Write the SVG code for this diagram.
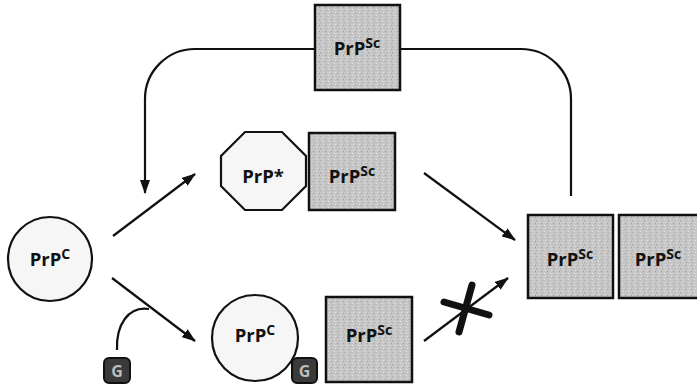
<svg xmlns="http://www.w3.org/2000/svg" width="697" height="386" viewBox="0 0 697 386">
  <defs>
    <marker id="head" viewBox="0 0 14 10" refX="13" refY="5" markerWidth="14" markerHeight="10" markerUnits="userSpaceOnUse" orient="auto">
      <path d="M0,0 L14,5 L0,10 Z" fill="#111"/>
    </marker>
    <pattern id="grain" width="6" height="6" patternUnits="userSpaceOnUse">
      <rect width="6" height="6" fill="#c6c6c6"/>
      <rect x="1" y="1" width="1" height="1" fill="#9a9a9a"/>
      <rect x="4" y="3" width="1" height="1" fill="#e6e6e6"/>
      <rect x="2" y="4" width="1" height="1" fill="#a8a8a8"/>
      <rect x="5" y="0" width="1" height="1" fill="#e0e0e0"/>
    </pattern>
  </defs>
  <style>
    .sc { fill: url(#grain); stroke: #111; stroke-width: 2.5; }
    .pale { fill: #f6f6f6; stroke: #111; stroke-width: 2.2; }
    .cof { fill: #3a3a3a; stroke: #111; stroke-width: 2; }
    .lbl { font-family: "Open Sans", "Liberation Sans", sans-serif; font-weight: bold; font-size: 18.5px; fill: #111; text-anchor: middle; }
    .sup { font-size: 14px; }
    .g { font-family: "Open Sans", "Liberation Sans", sans-serif; font-weight: bold; font-size: 16px; fill: #bdbdbd; text-anchor: middle; }
    .wire { fill: none; stroke: #111; stroke-width: 2.2; }
    .arrow { fill: none; stroke: #111; stroke-width: 2.2; marker-end: url(#head); }
  </style>

  <rect width="697" height="386" fill="#fff"/>

  <g id="connectors">
    <!-- recycling loop from the top PrPSc -->
    <path class="arrow" d="M315,49 H195 A50,50 0 0 0 145,99 V193"/>
    <path class="wire" d="M400,49 H521 A50,50 0 0 1 571,99 V196"/>
    <!-- conversion routes -->
    <path class="arrow" d="M113,236 L195,174"/>
    <path class="arrow" d="M112,278 L195,341"/>
    <path class="arrow" d="M424,173 L515,240"/>
    <path class="arrow" d="M424,341 L508,278"/>
    <!-- blocked route -->
    <path d="M444,302 L489,315 M472,285 L459,332" fill="none" stroke="#111" stroke-width="7" stroke-linecap="round"/>
    <!-- cofactor binding -->
    <path class="wire" d="M117,350 C116,325 128,306 149,309"/>
  </g>

  <g id="prpc-left">
    <circle class="pale" cx="50" cy="259" r="42"/>
    <text class="lbl" x="50" y="266">PrP<tspan class="sup" dy="-7">C</tspan></text>
  </g>

  <g id="prpsc-top">
    <rect class="sc" x="315" y="5" width="85" height="85"/>
    <text class="lbl" x="357" y="55">PrP<tspan class="sup" dy="-7">Sc</tspan></text>
  </g>

  <g id="prp-star">
    <polygon class="pale" points="245,132 282,132 306,156 306,186 282,210 245,210 221,186 221,156"/>
    <text class="lbl" x="263" y="183">PrP*</text>
  </g>

  <g id="prpsc-mid">
    <rect class="sc" x="309" y="133" width="86" height="77"/>
    <text class="lbl" x="352" y="183">PrP<tspan class="sup" dy="-7">Sc</tspan></text>
  </g>

  <g id="prpsc-right-a">
    <rect class="sc" x="528" y="215" width="85" height="83"/>
    <text class="lbl" x="570" y="266">PrP<tspan class="sup" dy="-7">Sc</tspan></text>
  </g>

  <g id="prpsc-right-b">
    <rect class="sc" x="619" y="215" width="85" height="83"/>
    <text class="lbl" x="658" y="266">PrP<tspan class="sup" dy="-7">Sc</tspan></text>
  </g>

  <g id="cofactor-free">
    <rect class="cof" x="104" y="358" width="26" height="25" rx="5"/>
    <text class="g" x="117" y="376.5">G</text>
  </g>

  <g id="prpc-bound">
    <circle class="pale" cx="255" cy="338" r="43"/>
    <text class="lbl" x="255" y="342">PrP<tspan class="sup" dy="-7">C</tspan></text>
    <rect class="cof" x="292" y="358" width="25" height="25" rx="5"/>
    <text class="g" x="304.5" y="376.5">G</text>
  </g>

  <g id="prpsc-bottom">
    <rect class="sc" x="326" y="297" width="86" height="85"/>
    <text class="lbl" x="369" y="342">PrP<tspan class="sup" dy="-7">Sc</tspan></text>
  </g>
</svg>
